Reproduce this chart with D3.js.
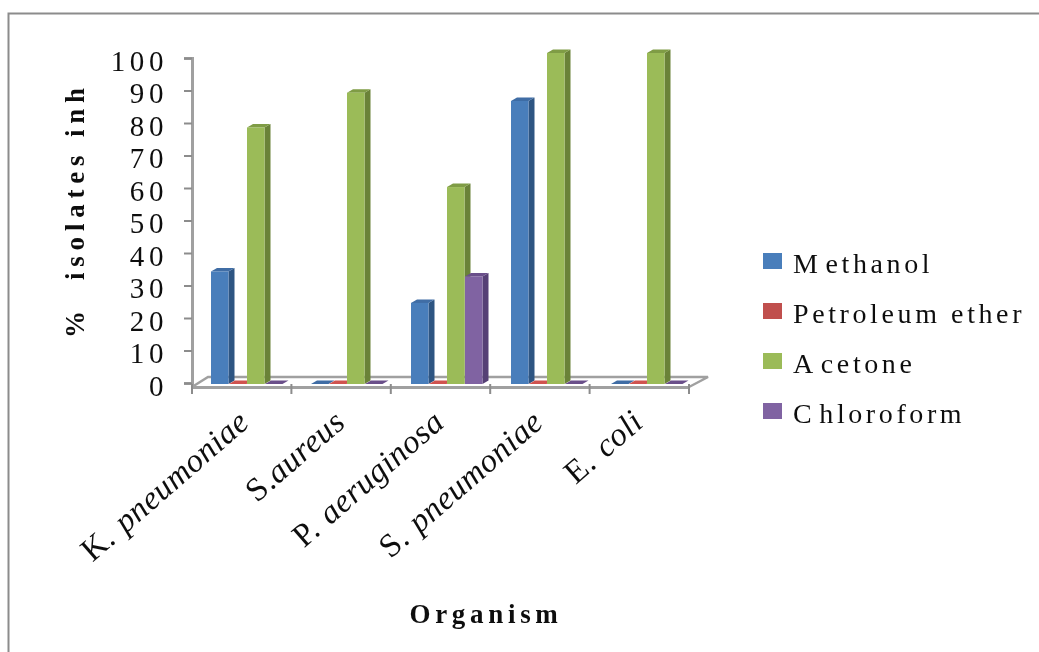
<!DOCTYPE html>
<html>
<head>
<meta charset="utf-8">
<script src="https://cdn.jsdelivr.net/npm/d3@7"></script>
<style>
  html, body { margin: 0; padding: 0; background: #fff; }
  svg { display: block; }
  text { font-family: "Liberation Serif", serif; fill: #111; }
</style>
</head>
<body>
<svg id="svg" width="1039" height="652">
  <defs><filter id="soft" x="0" y="0" width="100%" height="100%"><feGaussianBlur stdDeviation="0.45"/></filter></defs>
</svg>
<script>
const organisms = ["K. pneumoniae", "S.aureus", "P. aeruginosa", "S. pneumoniae", "E. coli"];
const seriesNames = ["Methanol", "Petroleum ether", "Acetone", "Chloroform"];
const methanol = [34, 0, 24.5, 85.5, 0];
const petroleum = [0, 0, 0, 0, 0];
const acetone = [77.5, 88, 59.5, 100, 100];
const chloroform = [0, 0, 32.5, 0, 0];
const yTicks = [0, 10, 20, 30, 40, 50, 60, 70, 80, 90, 100];

const seriesValues = [methanol, petroleum, acetone, chloroform];
const fronts = ["#4a7ebb", "#c0504d", "#9bbb59", "#8064a2"];
const sides = ["#2f5482", "#8a3533", "#6b8238", "#573f75"];
const tops = ["#3f6da5", "#d0524f", "#7f9c45", "#6a4f8a"];

const axisGrey = "#a0a0a0";
const depthX = 6;
const depthY = 3.5;

const svg = d3.select("#svg");
const root = svg.append("g").attr("filter", "url(#soft)");

// white backing so the blur filter has the whole page to work on
root.append("rect").attr("width", 1039).attr("height", 652).attr("fill", "#fff");

// outer frame, only top and left show in the crop
root.append("path")
  .attr("d", "M8.5,652V13.5H1039")
  .attr("fill", "none")
  .attr("stroke", "#8c8c8c")
  .attr("stroke-width", 2);

const x = d3.scaleBand().domain(organisms).range([192, 689]);
// bars sit a little wider apart than the axis ticks in the picture
const xBars = d3.scaleBand().domain(organisms).range([192, 692]);
const slot = d3.scaleBand().domain(seriesNames).range([19, 91]);
const yAxisScale = d3.scaleLinear().domain([0, 100]).range([383, 58]);
const yBar = d3.scaleLinear().domain([0, 100]).range([384, 53]);

// floor of the 3d plot
root.append("path")
  .attr("d", "M192,387L208,377H708L689,387")
  .attr("fill", "none")
  .attr("stroke", axisGrey)
  .attr("stroke-width", 2.5);

// y axis
const yG = root.append("g")
  .attr("transform", "translate(192,0)")
  .call(d3.axisLeft(yAxisScale).tickValues(yTicks).tickSize(8).tickPadding(16));
yG.select(".domain").attr("stroke", axisGrey).attr("stroke-width", 3);
yG.selectAll(".tick line").attr("stroke", "#8c8c8c").attr("stroke-width", 2);
yG.selectAll(".tick text")
  .attr("dy", "0.42em")
  .style("font-family", '"Liberation Serif", serif')
  .style("font-size", "29px")
  .style("letter-spacing", "4.6px")
  .attr("fill", "#111");

// x axis
const xG = root.append("g")
  .attr("transform", "translate(0,387)")
  .call(d3.axisBottom(x).tickSize(0).tickFormat(""));
xG.select(".domain").attr("stroke", axisGrey).attr("stroke-width", 3);
organisms.concat(["end"]).forEach((o, i) => {
  const tx = i < organisms.length ? x(o) : x.range()[1];
  xG.append("line")
    .attr("x1", tx).attr("x2", tx)
    .attr("y1", -3).attr("y2", 7)
    .attr("stroke", "#8c8c8c")
    .attr("stroke-width", 2);
});

// bars, back to front within a group
const bars = root.append("g");
organisms.forEach((o, i) => {
  seriesNames.forEach((s, j) => {
    const v = seriesValues[j][i];
    const x0 = xBars(o) + slot(s);
    const w = slot.bandwidth() - 0.5;
    const y0 = yBar(0);
    const y1 = yBar(v);
    const g = bars.append("g");
    g.append("path")
      .attr("d", d3.line()([[x0 + w, y1], [x0 + w + depthX, y1 - depthY], [x0 + w + depthX, y0 - depthY], [x0 + w, y0]]) + "Z")
      .attr("fill", sides[j]);
    g.append("path")
      .attr("d", d3.line()([[x0, y1], [x0 + depthX, y1 - depthY], [x0 + w + depthX, y1 - depthY], [x0 + w, y1]]) + "Z")
      .attr("fill", tops[j]);
    g.append("rect")
      .attr("x", x0)
      .attr("y", y1)
      .attr("width", w)
      .attr("height", y0 - y1)
      .attr("fill", fronts[j]);
  });
});

// x labels: the initial is upright in the picture, the rest italic
const labelAnchors = [251, 347, 446, 545, 645];
organisms.forEach((o, i) => {
  const cut = o.indexOf(".") + 1;
  const label = root.append("text")
    .attr("transform", `translate(${labelAnchors[i]},425) rotate(-41)`)
    .attr("text-anchor", "end")
    .style("font-size", "33px")
    .style("letter-spacing", "0.5px")
    .style("word-spacing", "2px");
  label.append("tspan").text(o.slice(0, cut));
  label.append("tspan").style("font-style", "italic").text(o.slice(cut));
});

// axis titles
root.append("text")
  .attr("transform", "translate(84,210) rotate(-90)")
  .attr("text-anchor", "middle")
  .style("font-size", "27px")
  .style("font-weight", "bold")
  .style("letter-spacing", "5.8px")
  .style("white-space", "pre")
  .text("%  isolates inh");

root.append("text")
  .attr("x", 486)
  .attr("y", 623)
  .attr("text-anchor", "middle")
  .style("font-size", "27px")
  .style("font-weight", "bold")
  .style("letter-spacing", "4.7px")
  .text("Organism");

// legend
const legendY = d3.scalePoint().domain(seriesNames).range([263, 413]);
seriesNames.forEach((s, j) => {
  root.append("rect")
    .attr("x", 763)
    .attr("y", legendY(s) - 10)
    .attr("width", 19)
    .attr("height", 16)
    .attr("fill", fronts[j]);
  const label = root.append("text")
    .attr("x", 793)
    .attr("y", legendY(s) + 10)
    .style("font-size", "28px")
    .style("letter-spacing", "3.6px");
  // the capital stands apart from the rest of the word, except in Petroleum
  label.append("tspan").text(s[0]);
  label.append("tspan").attr("dx", s === "Petroleum ether" ? 0 : 4).text(s.slice(1));
});
</script>
</body>
</html>
